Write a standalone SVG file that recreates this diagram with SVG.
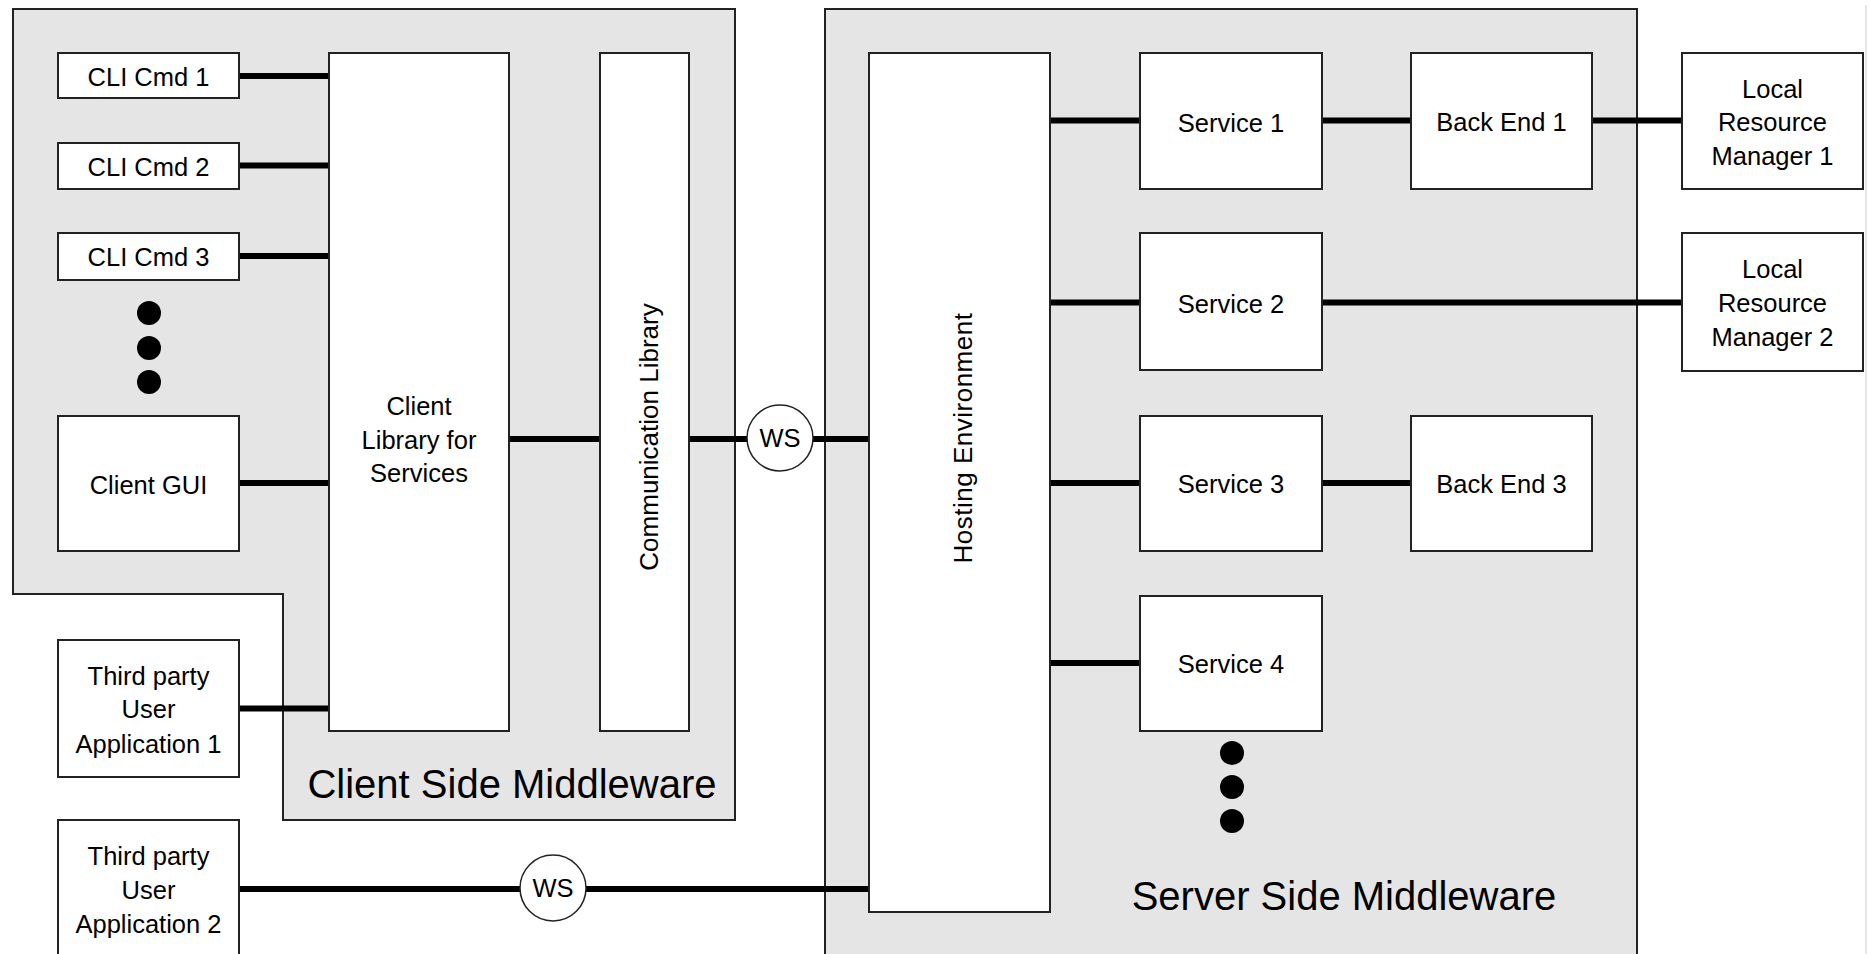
<svg xmlns="http://www.w3.org/2000/svg" width="1869" height="954" viewBox="0 0 1869 954">
<style>
  .region { fill: #e5e5e5; stroke: #222; stroke-width: 2; }
  .box { fill: #fff; stroke: #222; stroke-width: 2; }
  .conn { stroke: #000; stroke-width: 6; fill: none; }
  .ws { fill: #fff; stroke: #222; stroke-width: 1.5; }
  .dot { fill: #000; }
  text { font-family: "Liberation Sans", Arial, sans-serif; fill: #000; }
  .t { font-size: 25.5px; text-anchor: middle; }
  .vt { font-size: 26px; text-anchor: middle; }
  .big { font-size: 40px; text-anchor: middle; }
</style>
<rect width="1869" height="954" fill="#fff"/>
<line x1="1866" y1="5" x2="1866" y2="954" stroke="#dcdcdc" stroke-width="1.5"/>

<g id="client-side-middleware">
  <polygon class="region" points="13,9 735,9 735,820 283,820 283,594 13,594"/>
  <text class="big" x="512" y="798">Client Side Middleware</text>
</g>
<g id="server-side-middleware">
  <rect class="region" x="825" y="9" width="812" height="960"/>
  <text class="big" x="1344" y="910">Server Side Middleware</text>
</g>

<g id="connectors">
  <line class="conn" x1="239" y1="76" x2="329" y2="76"/>
  <line class="conn" x1="239" y1="165.5" x2="329" y2="165.5"/>
  <line class="conn" x1="239" y1="256" x2="329" y2="256"/>
  <line class="conn" x1="239" y1="483" x2="329" y2="483"/>
  <line class="conn" x1="239" y1="708.5" x2="329" y2="708.5"/>
  <line class="conn" x1="509" y1="439" x2="600" y2="439"/>
  <line class="conn" x1="689" y1="439" x2="747" y2="439"/>
  <line class="conn" x1="813" y1="439" x2="869" y2="439"/>
  <line class="conn" x1="239" y1="889" x2="520" y2="889"/>
  <line class="conn" x1="586" y1="889" x2="869" y2="889"/>
  <line class="conn" x1="1050" y1="120.5" x2="1140" y2="120.5"/>
  <line class="conn" x1="1050" y1="302.5" x2="1140" y2="302.5"/>
  <line class="conn" x1="1050" y1="483" x2="1140" y2="483"/>
  <line class="conn" x1="1050" y1="663" x2="1140" y2="663"/>
  <line class="conn" x1="1322" y1="120.5" x2="1411" y2="120.5"/>
  <line class="conn" x1="1592" y1="120.5" x2="1682" y2="120.5"/>
  <line class="conn" x1="1322" y1="302.5" x2="1682" y2="302.5"/>
  <line class="conn" x1="1322" y1="483" x2="1411" y2="483"/>
</g>

<g id="cli-cmd-1">
  <rect class="box" x="58" y="53" width="181" height="45"/>
  <text class="t" x="148.5" y="86">CLI Cmd 1</text>
</g>
<g id="cli-cmd-2">
  <rect class="box" x="58" y="143" width="181" height="46"/>
  <text class="t" x="148.5" y="176">CLI Cmd 2</text>
</g>
<g id="cli-cmd-3">
  <rect class="box" x="58" y="233" width="181" height="47"/>
  <text class="t" x="148.5" y="266">CLI Cmd 3</text>
</g>
<g id="client-dots">
  <circle class="dot" cx="149" cy="313" r="12"/>
  <circle class="dot" cx="149" cy="348" r="12"/>
  <circle class="dot" cx="149" cy="382" r="12"/>
</g>
<g id="client-gui">
  <rect class="box" x="58" y="416" width="181" height="135"/>
  <text class="t" x="148.5" y="493.5">Client GUI</text>
</g>
<g id="third-party-app-1">
  <rect class="box" x="58" y="640" width="181" height="137"/>
  <text class="t" x="148.5" y="684.5">Third party</text>
  <text class="t" x="148.5" y="718">User</text>
  <text class="t" x="148.5" y="752.5">Application 1</text>
</g>
<g id="third-party-app-2">
  <rect class="box" x="58" y="820" width="181" height="150"/>
  <text class="t" x="148.5" y="865">Third party</text>
  <text class="t" x="148.5" y="899">User</text>
  <text class="t" x="148.5" y="933">Application 2</text>
</g>
<g id="client-library">
  <rect class="box" x="329" y="53" width="180" height="678"/>
  <text class="t" x="419" y="415">Client</text>
  <text class="t" x="419" y="449">Library for</text>
  <text class="t" x="419" y="482">Services</text>
</g>
<g id="communication-library">
  <rect class="box" x="600" y="53" width="89" height="678"/>
  <text class="vt" transform="translate(658,437) rotate(-90)" x="0" y="0">Communication Library</text>
</g>
<g id="ws-1">
  <circle class="ws" cx="780" cy="438" r="33"/>
  <text class="t" x="780" y="447">WS</text>
</g>
<g id="ws-2">
  <circle class="ws" cx="553" cy="888" r="33"/>
  <text class="t" x="553" y="897">WS</text>
</g>
<g id="hosting-environment">
  <rect class="box" x="869" y="53" width="181" height="859"/>
  <text class="vt" transform="translate(972,438) rotate(-90)" x="0" y="0" letter-spacing="0.5">Hosting Environment</text>
</g>
<g id="service-1">
  <rect class="box" x="1140" y="53" width="182" height="136"/>
  <text class="t" x="1231" y="131.5">Service 1</text>
</g>
<g id="service-2">
  <rect class="box" x="1140" y="233" width="182" height="137"/>
  <text class="t" x="1231" y="313">Service 2</text>
</g>
<g id="service-3">
  <rect class="box" x="1140" y="416" width="182" height="135"/>
  <text class="t" x="1231" y="493">Service 3</text>
</g>
<g id="service-4">
  <rect class="box" x="1140" y="596" width="182" height="135"/>
  <text class="t" x="1231" y="673">Service 4</text>
</g>
<g id="server-dots">
  <circle class="dot" cx="1232" cy="753" r="12"/>
  <circle class="dot" cx="1232" cy="787" r="12"/>
  <circle class="dot" cx="1232" cy="821" r="12"/>
</g>
<g id="back-end-1">
  <rect class="box" x="1411" y="53" width="181" height="136"/>
  <text class="t" x="1501.5" y="130.5">Back End 1</text>
</g>
<g id="back-end-3">
  <rect class="box" x="1411" y="416" width="181" height="135"/>
  <text class="t" x="1501.5" y="493">Back End 3</text>
</g>
<g id="local-resource-manager-1">
  <rect class="box" x="1682" y="53" width="181" height="136"/>
  <text class="t" x="1772.5" y="97.5">Local</text>
  <text class="t" x="1772.5" y="131">Resource</text>
  <text class="t" x="1772.5" y="164.5">Manager 1</text>
</g>
<g id="local-resource-manager-2">
  <rect class="box" x="1682" y="233" width="181" height="138"/>
  <text class="t" x="1772.5" y="278">Local</text>
  <text class="t" x="1772.5" y="312">Resource</text>
  <text class="t" x="1772.5" y="346">Manager 2</text>
</g>
</svg>
